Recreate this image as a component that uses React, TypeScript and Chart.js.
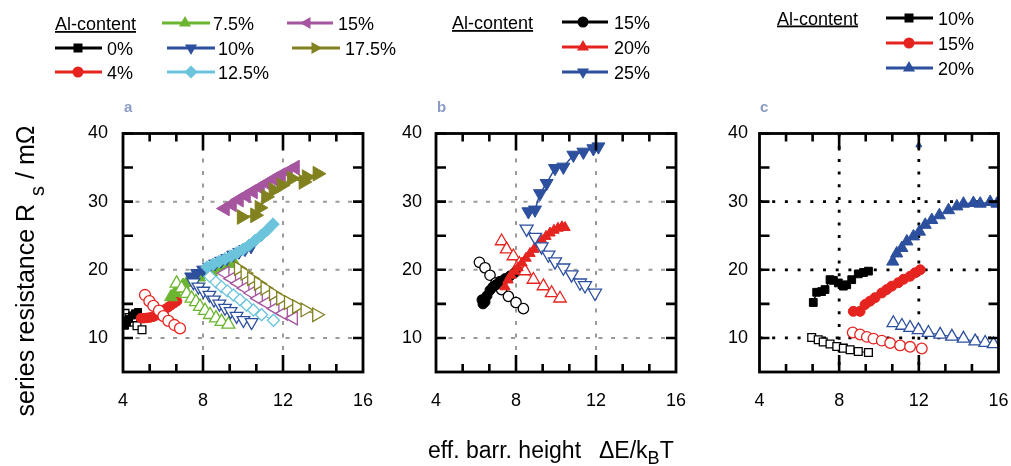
import React, { useEffect, useRef } from 'react';
import { Chart, registerables } from 'chart.js';
Chart.register(...registerables);

const FONT = '"Liberation Sans", Arial, Helvetica, sans-serif';

const BLACK = '#000000';
const RED = '#e52420';
const GREEN = '#6bb530';
const BLUE = '#2c4f9e';
const CYAN = '#6bc4dc';
const MAGENTA = '#a6569f';
const OLIVE = '#818120';

// axis ticks
const xTickLabels = [4, 8, 12, 16];
const yTickLabels = [10, 20, 30, 40];
const xGridValues = [8, 12];
const yGridValues = [10, 20, 30];
const yMinorTicks = [15, 25, 35];
const xMinorTicks = [16 / 3, 20 / 3, 28 / 3, 32 / 3, 40 / 3, 44 / 3];

// ---------- panel a ----------
const a00FilledX = [4.1, 4.2, 4.3, 4.45, 4.6, 4.75];
const a00FilledY = [11.8, 12.3, 12.8, 13.3, 13.6, 13.8];
const a00OpenX = [4.1, 4.3, 4.5, 4.7, 4.95];
const a00OpenY = [13.6, 13.0, 12.3, 11.8, 11.2];
const a04FilledX = [4.9, 5.05, 5.2, 5.35, 5.5, 5.65, 5.8, 5.95, 6.1, 6.25, 6.4, 6.55, 6.7];
const a04FilledY = [12.9, 12.9, 12.95, 13.0, 13.1, 13.3, 13.6, 13.9, 14.2, 14.5, 14.8, 15.1, 15.4];
const a04OpenX = [5.1, 5.32, 5.52, 5.8, 6.02, 6.27, 6.57, 6.85];
const a04OpenY = [16.3, 15.4, 14.7, 14.0, 13.2, 12.5, 11.9, 11.4];
const a75FilledX = [6.4, 6.6, 6.8, 7.0, 7.2, 7.5, 7.8, 8.1, 8.4, 8.7, 9.0, 9.3, 9.5];
const a75FilledY = [16.0, 16.6, 17.2, 17.7, 18.1, 18.5, 18.9, 19.3, 19.7, 20.1, 20.5, 20.9, 21.3];
const a75OpenX = [6.68, 6.93, 7.18, 7.43, 7.65, 7.85, 8.1, 8.35, 8.65, 8.93, 9.27];
const a75OpenY = [18.0, 17.3, 16.5, 15.8, 15.3, 14.6, 14.0, 13.4, 12.9, 12.4, 12.0];
const a10FilledX = [7.4, 7.7, 8.0, 8.3, 8.6, 8.9, 9.2, 9.5, 9.8, 10.1, 10.4];
const a10FilledY = [19.0, 19.5, 20.0, 20.4, 20.9, 21.3, 21.7, 22.2, 22.6, 23.0, 23.4];
const a10OpenX = [7.52, 7.77, 8.02, 8.32, 8.55, 8.82, 9.1, 9.38, 9.68, 10.02, 10.43];
const a10OpenY = [18.15, 17.5, 16.9, 16.3, 15.6, 15.0, 14.4, 13.9, 13.2, 12.6, 12.3];
const a125FilledX = [8.2, 8.5, 8.8, 9.1, 9.4, 9.7, 10.0, 10.3, 10.6, 10.9, 11.2, 11.5];
const a125FilledY = [20.4, 20.8, 21.2, 21.6, 22.0, 22.5, 23.0, 23.6, 24.3, 25.0, 25.8, 26.7];
const a125OpenX = [8.35, 8.65, 8.93, 9.22, 9.52, 9.85, 10.18, 10.52, 10.93, 11.52];
const a125OpenY = [19.0, 18.2, 17.5, 16.9, 16.3, 15.6, 14.8, 14.1, 13.4, 12.6];
const a15FilledX = [9.1, 9.45, 9.8, 10.15, 10.5, 10.85, 11.2, 11.55, 11.9, 12.25, 12.6];
const a15FilledY = [29.0, 29.6, 30.3, 30.9, 31.5, 32.1, 32.7, 33.3, 33.9, 34.4, 35.0];
const a15OpenX = [9.1, 9.43, 9.77, 10.1, 10.43, 10.77, 11.18, 11.6, 12.02, 12.52];
const a15OpenY = [19.5, 18.7, 18.0, 17.3, 16.6, 15.8, 15.1, 14.3, 13.6, 12.9];
const a175FilledX = [9.93, 10.6, 10.82, 11.15, 11.52, 11.93, 12.43, 13.02, 13.18, 13.72];
const a175FilledY = [27.75, 28.0, 29.1, 30.7, 31.7, 32.4, 33.4, 32.9, 33.6, 34.1];
const a175OpenX = [9.77, 10.1, 10.43, 10.77, 11.1, 11.52, 11.88, 12.27, 12.68, 13.1, 13.68];
const a175OpenY = [20.2, 19.5, 18.7, 18.0, 17.3, 16.5, 15.8, 15.2, 14.6, 14.1, 13.4];

// ---------- panel b ----------
const b15FilledX = [6.3, 6.35, 6.45, 6.55, 6.7, 6.85, 7.0, 7.2, 7.45, 7.7, 7.95, 8.2];
const b15FilledY = [15.6, 15.0, 15.3, 16.2, 17.0, 17.5, 17.8, 18.3, 18.7, 19.1, 19.6, 20.2];
const b15OpenX = [6.17, 6.45, 6.7, 7.0, 7.28, 7.62, 8.0, 8.37];
const b15OpenY = [21.1, 20.3, 19.2, 18.1, 17.1, 16.1, 15.2, 14.3];
const b20FilledX = [7.45, 7.6, 7.75, 7.95, 8.1, 8.3, 8.5, 8.7, 8.9, 9.1, 9.3, 9.5, 9.7, 9.9, 10.1, 10.3, 10.45];
const b20FilledY = [17.5, 18.5, 19.2, 19.8, 20.3, 21.0, 21.7, 22.4, 23.0, 23.7, 24.3, 24.9, 25.4, 25.8, 26.1, 26.3, 26.2];
const b20OpenX = [7.28, 7.53, 7.87, 8.17, 8.45, 8.87, 9.37, 9.78, 10.2];
const b20OpenY = [24.2, 23.0, 22.0, 20.9, 19.8, 18.55, 17.6, 16.6, 15.8];
const b25FilledX = [8.62, 8.95, 9.2, 9.53, 9.95, 10.37, 10.87, 11.37, 11.87, 12.12];
const b25FilledY = [28.55, 28.8, 31.2, 32.7, 34.9, 35.1, 36.85, 37.3, 37.8, 38.07];
const b25OpenX = [8.53, 8.95, 9.28, 9.62, 9.95, 10.37, 10.78, 11.2, 11.45, 11.95];
const b25OpenY = [26.0, 24.8, 23.4, 22.2, 21.2, 20.3, 19.3, 18.1, 17.7, 16.6];

// ---------- panel c ----------
const c10FilledX = [6.7, 6.87, 7.12, 7.29, 7.54, 7.71, 7.96, 8.21, 8.38, 8.63, 8.96, 9.22, 9.47];
const c10FilledY = [15.2, 16.7, 16.8, 17.1, 18.55, 18.45, 18.07, 17.6, 17.8, 18.55, 19.4, 19.6, 19.8];
const c10OpenX = [6.62, 6.95, 7.2, 7.54, 7.88, 8.21, 8.55, 8.96, 9.47];
const c10OpenY = [10.07, 9.73, 9.39, 9.1, 8.75, 8.5, 8.26, 8.0, 7.86];
const c15FilledX = [8.71, 9.05, 9.3, 9.55, 9.8, 10.14, 10.39, 10.64, 10.97, 11.23, 11.56, 11.81, 12.07];
const c15FilledY = [13.9, 13.9, 14.9, 15.4, 15.9, 16.6, 17.1, 17.6, 18.1, 18.6, 19.05, 19.55, 20.0];
const c15OpenX = [8.68, 9.05, 9.39, 9.72, 10.14, 10.56, 11.06, 11.56, 12.15];
const c15OpenY = [10.8, 10.5, 10.15, 9.9, 9.6, 9.25, 8.9, 8.7, 8.45];
const c20FilledX = [10.69, 10.89, 11.15, 11.4, 11.73, 12.03, 12.32, 12.65, 13.03, 13.49, 13.91, 14.24, 14.74, 15.08, 15.58, 15.92];
const c20FilledY = [21.2, 22.4, 23.2, 24.16, 24.9, 25.6, 26.6, 27.3, 28.0, 28.75, 29.3, 29.7, 29.8, 29.7, 29.95, 29.7];
const c20StrayX = [12.0];
const c20StrayY = [38.3];
const c20OpenX = [10.72, 11.15, 11.56, 11.98, 12.48, 13.07, 13.66, 14.24, 14.83, 15.33, 15.75];
const c20OpenY = [12.2, 11.8, 11.5, 11.15, 10.76, 10.5, 10.2, 9.9, 9.5, 9.3, 9.1];

type Shape = 'square' | 'circle' | 'up' | 'down' | 'left' | 'right' | 'diamond';
type Series = { xs: number[]; ys: number[]; color: string; shape: Shape; filled: boolean; r: number };

const styleOf = (shape: Shape): { pointStyle: any; rotation: number } => {
  switch (shape) {
    case 'square': return { pointStyle: 'rect', rotation: 0 };
    case 'circle': return { pointStyle: 'circle', rotation: 0 };
    case 'diamond': return { pointStyle: 'rectRot', rotation: 0 };
    case 'up': return { pointStyle: 'triangle', rotation: 0 };
    case 'down': return { pointStyle: 'triangle', rotation: 180 };
    case 'left': return { pointStyle: 'triangle', rotation: 270 };
    case 'right': return { pointStyle: 'triangle', rotation: 90 };
  }
};

const panelASeries: Series[] = [
  { xs: a00OpenX, ys: a00OpenY, color: BLACK, shape: 'square', filled: false, r: 5.5 },
  { xs: a00FilledX, ys: a00FilledY, color: BLACK, shape: 'square', filled: true, r: 5 },
  { xs: a04FilledX, ys: a04FilledY, color: RED, shape: 'circle', filled: true, r: 4.8 },
  { xs: a04OpenX, ys: a04OpenY, color: RED, shape: 'circle', filled: false, r: 5.5 },
  { xs: a75FilledX, ys: a75FilledY, color: GREEN, shape: 'up', filled: true, r: 7.5 },
  { xs: a75OpenX, ys: a75OpenY, color: GREEN, shape: 'up', filled: false, r: 7.5 },
  { xs: a10FilledX, ys: a10FilledY, color: BLUE, shape: 'down', filled: true, r: 7.3 },
  { xs: a10OpenX, ys: a10OpenY, color: BLUE, shape: 'down', filled: false, r: 7.3 },
  { xs: a125FilledX, ys: a125FilledY, color: CYAN, shape: 'diamond', filled: true, r: 6.3 },
  { xs: a125OpenX, ys: a125OpenY, color: CYAN, shape: 'diamond', filled: false, r: 6 },
  { xs: a15FilledX, ys: a15FilledY, color: MAGENTA, shape: 'left', filled: true, r: 8.5 },
  { xs: a15OpenX, ys: a15OpenY, color: MAGENTA, shape: 'left', filled: false, r: 7.8 },
  { xs: a175FilledX, ys: a175FilledY, color: OLIVE, shape: 'right', filled: true, r: 8.5 },
  { xs: a175OpenX, ys: a175OpenY, color: OLIVE, shape: 'right', filled: false, r: 7.8 },
];

const panelBSeries: Series[] = [
  { xs: b15OpenX, ys: b15OpenY, color: BLACK, shape: 'circle', filled: false, r: 5.2 },
  { xs: b15FilledX, ys: b15FilledY, color: BLACK, shape: 'circle', filled: true, r: 5 },
  { xs: b20OpenX, ys: b20OpenY, color: RED, shape: 'up', filled: false, r: 7.2 },
  { xs: b20FilledX, ys: b20FilledY, color: RED, shape: 'up', filled: true, r: 6 },
  { xs: b25OpenX, ys: b25OpenY, color: BLUE, shape: 'down', filled: false, r: 7.5 },
  { xs: b25FilledX, ys: b25FilledY, color: BLUE, shape: 'down', filled: true, r: 7.5 },
];

const panelCSeries: Series[] = [
  { xs: c10OpenX, ys: c10OpenY, color: BLACK, shape: 'square', filled: false, r: 5.5 },
  { xs: c10FilledX, ys: c10FilledY, color: BLACK, shape: 'square', filled: true, r: 5.5 },
  { xs: c15OpenX, ys: c15OpenY, color: RED, shape: 'circle', filled: false, r: 5.3 },
  { xs: c15FilledX, ys: c15FilledY, color: RED, shape: 'circle', filled: true, r: 5 },
  { xs: c20OpenX, ys: c20OpenY, color: BLUE, shape: 'up', filled: false, r: 7.2 },
  { xs: c20FilledX, ys: c20FilledY, color: BLUE, shape: 'up', filled: true, r: 7 },
  { xs: c20StrayX, ys: c20StrayY, color: BLUE, shape: 'up', filled: true, r: 3.5 },
];

type PanelCfg = {
  series: Series[];
  left: number; right: number; top: number; bottom: number;
  yPad: number; xPad: number;
  gridColor: string; gridWidth: number; gridDash: number[];
};

const CANVAS_TOP = 98;
const CANVAS_BOTTOM = 420;
const PAD_RIGHT = 34;

function makeFramePlugin(cfg: PanelCfg) {
  return {
    id: 'frameTicks',
    beforeDatasetsDraw(chart: any) {
      const { ctx, chartArea, scales } = chart;
      const { left, right, top, bottom } = chartArea;
      ctx.save();
      ctx.strokeStyle = cfg.gridColor;
      ctx.lineWidth = cfg.gridWidth;
      ctx.setLineDash(cfg.gridDash);
      xGridValues.forEach((v) => {
        const p = scales.x.getPixelForValue(v);
        ctx.beginPath(); ctx.moveTo(p, top); ctx.lineTo(p, bottom); ctx.stroke();
      });
      yGridValues.forEach((v) => {
        const p = scales.y.getPixelForValue(v);
        ctx.beginPath(); ctx.moveTo(left, p); ctx.lineTo(right, p); ctx.stroke();
      });
      ctx.restore();
    },
    afterDatasetsDraw(chart: any) {
      const { ctx, chartArea, scales } = chart;
      const { left, right, top, bottom } = chartArea;
      ctx.save();
      ctx.strokeStyle = '#000';
      ctx.setLineDash([]);
      ctx.lineWidth = 2.6;
      ctx.lineCap = 'butt';
      [...yTickLabels, ...yMinorTicks].forEach((v) => {
        const p = scales.y.getPixelForValue(v);
        ctx.beginPath();
        ctx.moveTo(left, p); ctx.lineTo(left + 10, p);
        ctx.moveTo(right, p); ctx.lineTo(right - 10, p);
        ctx.stroke();
      });
      xGridValues.forEach((v) => {
        const p = scales.x.getPixelForValue(v);
        ctx.beginPath();
        ctx.moveTo(p, bottom); ctx.lineTo(p, bottom - 17);
        ctx.moveTo(p, top); ctx.lineTo(p, top + 17);
        ctx.stroke();
      });
      xMinorTicks.forEach((v) => {
        const p = scales.x.getPixelForValue(v);
        ctx.beginPath();
        ctx.moveTo(p, bottom); ctx.lineTo(p, bottom - 8);
        ctx.moveTo(p, top); ctx.lineTo(p, top + 8);
        ctx.stroke();
      });
      ctx.lineWidth = 2.8;
      ctx.strokeRect(left, top, right - left, bottom - top);
      ctx.restore();
    },
  };
}

function Panel({ cfg }: { cfg: PanelCfg }) {
  const ref = useRef<HTMLCanvasElement>(null);
  const canvasLeft = Math.round(cfg.left) - 60;
  const canvasW = Math.round(cfg.right) - canvasLeft + PAD_RIGHT;
  const canvasH = CANVAS_BOTTOM - CANVAS_TOP;
  useEffect(() => {
    if (!ref.current) return;
    const n = cfg.series.length;
    const datasets = cfg.series.map((s, i) => {
      const st = styleOf(s.shape);
      return {
        data: s.xs.map((x, j) => ({ x, y: s.ys[j] })),
        showLine: true,
        borderColor: s.color,
        borderWidth: s.filled ? 1.5 : 1,
        backgroundColor: s.filled ? s.color : '#ffffff',
        pointStyle: st.pointStyle,
        pointRotation: st.rotation,
        pointRadius: s.r,
        pointHoverRadius: s.r,
        pointBorderWidth: s.filled ? 1 : 1.3,
        pointBorderColor: s.color,
        pointBackgroundColor: s.filled ? s.color : '#ffffff',
        order: n - i,
      };
    });
    const tickFont = { family: FONT, size: 18 };
    const chart = new Chart(ref.current, {
      type: 'scatter',
      data: { datasets },
      options: {
        animation: false,
        responsive: false,
        devicePixelRatio: 1,
        layout: {
          padding: {
            left: 0,
            right: canvasLeft + canvasW - cfg.right,
            top: cfg.top - CANVAS_TOP,
            bottom: 0,
          },
        },
        plugins: { legend: { display: false }, tooltip: { enabled: false } },
        scales: {
          x: {
            type: 'linear', min: 4, max: 16,
            grid: { display: false, drawTicks: false },
            border: { display: false },
            ticks: { font: tickFont, color: '#000', padding: cfg.xPad, maxRotation: 0, minRotation: 0, autoSkip: false },
            afterBuildTicks: (s: any) => { s.ticks = xTickLabels.map((v) => ({ value: v })); },
            afterFit: (s: any) => { s.height = CANVAS_BOTTOM - cfg.bottom; },
          },
          y: {
            type: 'linear', min: 5, max: 40,
            grid: { display: false, drawTicks: false },
            border: { display: false },
            ticks: { font: tickFont, color: '#000', padding: cfg.yPad, autoSkip: false },
            afterBuildTicks: (s: any) => { s.ticks = yTickLabels.map((v) => ({ value: v })); },
            afterFit: (s: any) => { s.width = cfg.left - canvasLeft; },
          },
        },
      } as any,
      plugins: [makeFramePlugin(cfg)],
    });
    return () => chart.destroy();
  }, []);
  return (
    <canvas
      ref={ref}
      width={canvasW}
      height={canvasH}
      style={{ position: 'absolute', left: canvasLeft, top: CANVAS_TOP, width: canvasW, height: canvasH }}
    />
  );
}

const grayGrid = { gridColor: '#9a9a9a', gridWidth: 2, gridDash: [4, 8.5] };
const blackGrid = { gridColor: '#000000', gridWidth: 2.8, gridDash: [3, 9.7] };

const panels: PanelCfg[] = [
  { series: panelASeries, left: 123, right: 363, top: 133.5, bottom: 372, yPad: 15, xPad: 18, ...grayGrid },
  { series: panelBSeries, left: 436, right: 676, top: 133.5, bottom: 372, yPad: 14, xPad: 18, ...grayGrid },
  { series: panelCSeries, left: 759.5, right: 998.5, top: 133.5, bottom: 372, yPad: 11.5, xPad: 18, ...blackGrid },
];

function LegendMarker({ shape, x, y, color }: { shape: Shape; x: number; y: number; color: string }) {
  if (shape === 'square') return <rect x={x - 4.5} y={y - 4.5} width={9} height={9} fill={color} />;
  if (shape === 'circle') return <circle cx={x} cy={y} r={5.5} fill={color} />;
  if (shape === 'diamond')
    return <polygon points={`${x},${y - 6.5} ${x + 6.5},${y} ${x},${y + 6.5} ${x - 6.5},${y}`} fill={color} />;
  const rot = { up: 0, right: 90, down: 180, left: 270 }[shape as 'up'];
  const r = 7;
  const pts = [0, 120, 240]
    .map((a) => {
      const t = ((a + rot) * Math.PI) / 180;
      return `${x + r * Math.sin(t)},${y - r * Math.cos(t)}`;
    })
    .join(' ');
  return <polygon points={pts} fill={color} />;
}

type LegendItem = { label: string; color: string; shape: Shape; x1: number; x2: number; mx: number; tx: number; y: number };

const legendItems: LegendItem[] = [
  { label: '7.5%', color: GREEN, shape: 'up', x1: 162, x2: 210, mx: 185, tx: 213, y: 23 },
  { label: '15%', color: MAGENTA, shape: 'left', x1: 287, x2: 333, mx: 307, tx: 338, y: 23 },
  { label: '0%', color: BLACK, shape: 'square', x1: 55, x2: 102, mx: 78, tx: 107, y: 48 },
  { label: '10%', color: BLUE, shape: 'down', x1: 167, x2: 215, mx: 191, tx: 218, y: 48 },
  { label: '17.5%', color: OLIVE, shape: 'right', x1: 292, x2: 340, mx: 315, tx: 345, y: 48 },
  { label: '4%', color: RED, shape: 'circle', x1: 55, x2: 102, mx: 78, tx: 107, y: 72 },
  { label: '12.5%', color: CYAN, shape: 'diamond', x1: 167, x2: 215, mx: 191, tx: 218, y: 72 },
  { label: '15%', color: BLACK, shape: 'circle', x1: 562, x2: 608, mx: 583, tx: 614, y: 22 },
  { label: '20%', color: RED, shape: 'up', x1: 562, x2: 608, mx: 583, tx: 614, y: 47 },
  { label: '25%', color: BLUE, shape: 'down', x1: 562, x2: 608, mx: 583, tx: 614, y: 72 },
  { label: '10%', color: BLACK, shape: 'square', x1: 886, x2: 933, mx: 909, tx: 938, y: 18 },
  { label: '15%', color: RED, shape: 'circle', x1: 886, x2: 933, mx: 909, tx: 938, y: 43 },
  { label: '20%', color: BLUE, shape: 'up', x1: 886, x2: 933, mx: 909, tx: 938, y: 68 },
];

const legendHeaders = [
  { x: 55, y: 30 },
  { x: 452, y: 29 },
  { x: 777, y: 24.5 },
];

const panelLetters = [
  { t: 'a', x: 124, y: 112 },
  { t: 'b', x: 437, y: 112 },
  { t: 'c', x: 760, y: 112 },
];

export default function App() {
  return (
    <div style={{ position: 'absolute', left: 0, top: 0, width: 1011, height: 466, background: '#fff', overflow: 'hidden' }}>
      {panels.map((p, i) => (
        <Panel key={i} cfg={p} />
      ))}
      <svg
        width={1011}
        height={466}
        style={{ position: 'absolute', left: 0, top: 0, pointerEvents: 'none' }}
        fontFamily={FONT}
      >
        {legendHeaders.map((h, i) => (
          <text key={'h' + i} x={h.x} y={h.y} fontSize={18} fill="#000" textDecoration="underline">
            Al-content
          </text>
        ))}
        {legendItems.map((it, i) => (
          <g key={'l' + i}>
            <line x1={it.x1} x2={it.x2} y1={it.y} y2={it.y} stroke={it.color} strokeWidth={3} />
            <LegendMarker shape={it.shape} x={it.mx} y={it.y} color={it.color} />
            <text x={it.tx} y={it.y + 6.5} fontSize={18} fill="#000">
              {it.label}
            </text>
          </g>
        ))}
        {panelLetters.map((l) => (
          <text key={l.t} x={l.x} y={l.y} fontSize={15} fontWeight="bold" fill="#8a9cc6">
            {l.t}
          </text>
        ))}
        <text transform="translate(33.5, 271) rotate(-90)" textAnchor="middle" fontSize={25} fill="#000">
          series resistance R
          <tspan dx={8} dy={10} fontSize={20}>s</tspan>
          <tspan dx={7} dy={-10}>/ mΩ</tspan>
        </text>
        <text y={458} fontSize={23} fill="#000">
          <tspan x={428}>eff. barr. height</tspan>
          <tspan x={599}>ΔE/k</tspan>
          <tspan dy={6} fontSize={18}>B</tspan>
          <tspan dy={-6}>T</tspan>
        </text>
      </svg>
    </div>
  );
}
